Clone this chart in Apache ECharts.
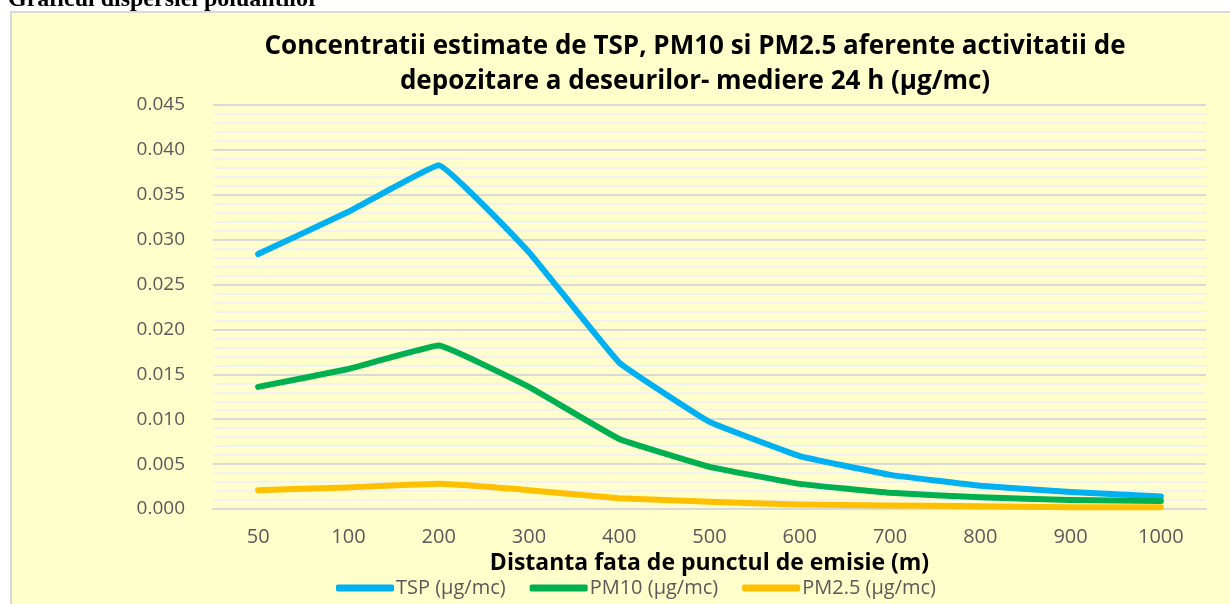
<!DOCTYPE html>
<html>
<head>
<meta charset="utf-8">
<script src="https://cdn.jsdelivr.net/npm/echarts@6/dist/echarts.min.js"></script>
<style>
  html, body { margin: 0; padding: 0; background: #fff; }
  #chart { width: 1230px; height: 604px; }
</style>
</head>
<body>
<div id="chart"></div>
<script>
// distances from the emission point (m)
const distances = ['50', '100', '200', '300', '400', '500', '600', '700', '800', '900', '1000']

// concentrations, ug/mc, 24 h average
const tsp = [0.0284, 0.0331, 0.0383, 0.0286, 0.0163, 0.0097, 0.0059, 0.0038, 0.0026, 0.0019, 0.0014]
const pm10 = [0.0136, 0.0156, 0.0182, 0.0136, 0.0078, 0.0047, 0.0028, 0.0018, 0.0013, 0.0010, 0.0009]
const pm25 = [0.0021, 0.0024, 0.0028, 0.0021, 0.0012, 0.0008, 0.0005, 0.0004, 0.0003, 0.0002, 0.0002]

const seriesNames = ['TSP (µg/mc)', 'PM10 (µg/mc)', 'PM2.5 (µg/mc)']
const seriesColors = ['#00B0F0', '#00B050', '#FFC000']

const chart = echarts.init(document.getElementById('chart'))

function lineSeries(name, data, color) {
  return {
    name: name,
    type: 'line',
    data: data,
    smooth: 0.08,
    showSymbol: false,
    symbol: 'none',
    lineStyle: { color: color, width: 6, cap: 'round', join: 'round' },
    itemStyle: { color: color },
    animation: false
  }
}

chart.setOption({
  animation: false,
  textStyle: { fontFamily: 'Open Sans' },
  graphic: [
    {
      type: 'rect',
      z: -10,
      shape: { x: 11, y: 12, width: 1230, height: 600 },
      style: { fill: '#FFFFCC', stroke: '#D9D9D9', lineWidth: 2 }
    },
    {
      type: 'text',
      left: 8,
      top: -12,
      style: {
        text: 'Graficul dispersiei poluantilor',
        font: 'bold 24px "Liberation Serif"',
        fill: '#000'
      }
    }
  ],
  title: {
    text: 'Concentratii estimate de TSP, PM10 si PM2.5 aferente activitatii de\ndepozitare a deseurilor- mediere 24 h (µg/mc)',
    left: 690,
    top: 24,
    textAlign: 'center',
    textStyle: {
      fontFamily: 'Open Sans',
      fontWeight: 'bold',
      fontSize: 26,
      lineHeight: 35,
      color: '#000'
    }
  },
  legend: {
    data: seriesNames,
    left: 331,
    top: 573,
    icon: 'roundRect',
    itemWidth: 58,
    itemHeight: 7,
    itemGap: 24,
    textStyle: { fontFamily: 'Open Sans', fontSize: 20, color: '#595959', padding: [0, 0, 0, -3] }
  },
  grid: { left: 213, right: 24, top: 105, bottom: 95 },
  xAxis: {
    type: 'category',
    data: distances,
    boundaryGap: true,
    name: 'Distanta fata de punctul de emisie (m)',
    nameLocation: 'middle',
    nameGap: 43,
    nameTextStyle: { fontFamily: 'Open Sans', fontWeight: 'bold', fontSize: 23, color: '#000' },
    axisLine: { show: true, lineStyle: { color: '#D9D9D9', width: 2 } },
    axisTick: { show: false },
    axisLabel: { margin: 18, fontSize: 20, color: '#595959', fontFamily: 'Open Sans' }
  },
  yAxis: {
    type: 'value',
    min: 0,
    max: 0.045,
    interval: 0.005,
    axisLine: { show: false },
    axisTick: { show: false },
    axisLabel: {
      margin: 28,
      fontSize: 19,
      color: '#595959',
      fontFamily: 'Open Sans',
      formatter: v => v.toFixed(3)
    },
    splitLine: { lineStyle: { color: '#D9D9D9', width: 2 } },
    minorTick: { show: false, splitNumber: 5 },
    minorSplitLine: { show: true, lineStyle: { color: '#F2F2F2', width: 2 } }
  },
  series: [
    lineSeries(seriesNames[0], tsp, seriesColors[0]),
    lineSeries(seriesNames[1], pm10, seriesColors[1]),
    lineSeries(seriesNames[2], pm25, seriesColors[2])
  ]
})
</script>
</body>
</html>
